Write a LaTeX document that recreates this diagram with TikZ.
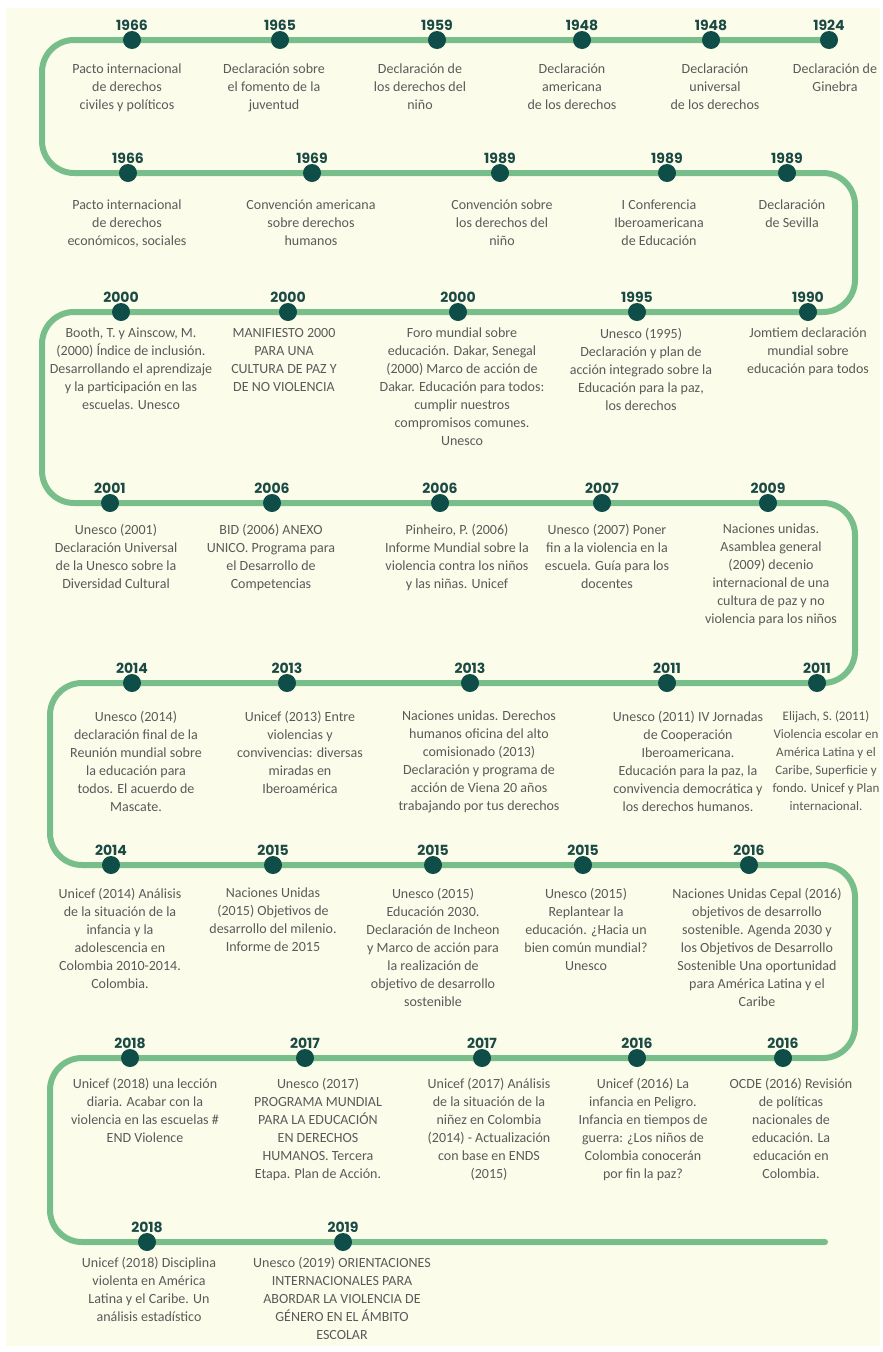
\documentclass[tikz,border=0pt]{standalone}
\usepackage{fontspec}
\setmainfont{Carlito}
\newfontfamily\yearfont{Poppins}
\usetikzlibrary{backgrounds}
\definecolor{cream}{HTML}{FCFCEA}
\definecolor{lgreen}{HTML}{78BE8B}
\definecolor{dteal}{HTML}{0F4D48}
\definecolor{yteal}{HTML}{1B4A45}
\definecolor{tgray}{HTML}{5A5A5A}
\newcommand\evt[8][]{%
  \node[dotmark] (#2) at (#3,#4) {};
  \node[yearlbl] (#2y) at (#3,#4-10) {#5};
  \node[evtxt,#1] (#2t) at (#6,#7) {#8};
}
\begin{document}
\begin{tikzpicture}[x=1pt,y=-1pt,
  dotmark/.style={circle,fill=dteal,minimum size=18pt,inner sep=0pt},
  yearlbl/.style={anchor=base,inner sep=0pt,text=yteal,font=\yearfont\bfseries\fontsize{14}{16}\selectfont},
  evtxt/.style={anchor=north,inner sep=0pt,align=center,text=tgray,font=\fontsize{14}{18}\selectfont},
  tighttxt/.style={font=\fontsize{13}{18}\selectfont},
  tline/.style={line width=6pt,draw=lgreen,rounded corners=32pt,line cap=round}]
\useasboundingbox (0,0) rectangle (883,1352);
\clip (0,0) rectangle (883,1352);
% row 1
\evt{a1}{132}{40}{1966}{127}{64}{Pacto internacional\\de derechos\\civiles y políticos}
\evt{a2}{280}{40}{1965}{274}{64}{Declaración sobre\\el fomento de la\\juventud}
\evt{a3}{437}{40}{1959}{420}{64}{Declaración de\\los derechos del\\niño}
\evt{a4}{582}{40}{1948}{572}{64}{Declaración\\americana\\de los derechos}
\evt{a5}{711}{40}{1948}{715}{64}{Declaración\\universal\\de los derechos}
\evt{a6}{829}{40}{1924}{835}{64}{Declaración de\\Ginebra}
% row 2
\evt{b1}{128}{173}{1966}{127}{200}{Pacto internacional\\de derechos\\económicos, sociales}
\evt{b2}{312}{173}{1969}{311}{200}{Convención americana\\sobre derechos\\humanos}
\evt{b3}{500}{173}{1989}{502}{200}{Convención sobre\\los derechos del\\niño}
\evt{b4}{667}{173}{1989}{659}{200}{I Conferencia\\Iberoamericana\\de Educación}
\evt{b5}{787}{173}{1989}{792}{200}{Declaración\\de Sevilla}
% row 3
\evt{c1}{121}{312}{2000}{131}{328}{Booth, T. y Ainscow, M.\\(2000) Índice de inclusión.\\Desarrollando el aprendizaje\\y la participación en las\\escuelas. Unesco}
\evt{c2}{288}{312}{2000}{284}{328}{MANIFIESTO 2000\\PARA UNA\\CULTURA DE PAZ Y\\DE NO VIOLENCIA}
\evt{c3}{458}{312}{2000}{462}{328}{Foro mundial sobre\\educación. Dakar, Senegal\\(2000) Marco de acción de\\Dakar. Educación para todos:\\cumplir nuestros\\compromisos comunes.\\Unesco}
\evt{c4}{637}{312}{1995}{641}{328}{Unesco (1995)\\Declaración y plan de\\acción integrado sobre la\\Educación para la paz,\\los derechos}
\evt{c5}{808}{312}{1990}{808}{328}{Jomtiem declaración\\mundial sobre\\educación para todos}
% row 4
\evt{d1}{110}{503}{2001}{116}{524}{Unesco (2001)\\Declaración Universal\\de la Unesco sobre la\\Diversidad Cultural}
\evt{d2}{272}{503}{2006}{271}{524}{BID (2006) ANEXO\\UNICO. Programa para\\el Desarrollo de\\Competencias}
\evt{d3}{440}{503}{2006}{457}{524}{Pinheiro, P. (2006)\\Informe Mundial sobre la\\violencia contra los niños\\y las niñas. Unicef}
\evt{d4}{602}{503}{2007}{607}{524}{Unesco (2007) Poner\\fin a la violencia en la\\escuela. Guía para los\\docentes}
\evt{d5}{768}{503}{2009}{771}{524}{Naciones unidas.\\Asamblea general\\(2009) decenio\\internacional de una\\cultura de paz y no\\violencia para los niños}
% row 5
\evt{e1}{132}{683}{2014}{136}{711}{Unesco (2014)\\declaración final de la\\Reunión mundial sobre\\la educación para\\todos. El acuerdo de\\Mascate.}
\evt{e2}{287}{683}{2013}{300}{711}{Unicef (2013) Entre\\violencias y\\convivencias: diversas\\miradas en\\Iberoamérica}
\evt{e3}{470}{683}{2013}{479}{711}{Naciones unidas. Derechos\\humanos oficina del alto\\comisionado (2013)\\Declaración y programa de\\acción de Viena 20 años\\trabajando por tus derechos}
\evt{e4}{667}{683}{2011}{688}{711}{Unesco (2011) IV Jornadas\\de Cooperación\\Iberoamericana.\\Educación para la paz, la\\convivencia democrática y\\los derechos humanos.}
\evt[tighttxt]{e5}{817}{683}{2011}{826}{711}{Elijach, S. (2011)\\Violencia escolar en\\América Latina y el\\Caribe, Superficie y\\fondo. Unicef y Plan\\internacional.}
% row 6
\evt{f1}{111}{865}{2014}{120}{888}{Unicef (2014) Análisis\\de la situación de la\\infancia y la\\adolescencia en\\Colombia 2010-2014.\\Colombia.}
\evt{f2}{273}{865}{2015}{273}{888}{Naciones Unidas\\(2015) Objetivos de\\desarrollo del milenio.\\Informe de 2015}
\evt{f3}{433}{865}{2015}{433}{888}{Unesco (2015)\\Educación 2030.\\Declaración de Incheon\\y Marco de acción para\\la realización de\\objetivo de desarrollo\\sostenible}
\evt{f4}{583}{865}{2015}{586}{888}{Unesco (2015)\\Replantear la\\educación. ¿Hacia un\\bien común mundial?\\Unesco}
\evt{f5}{749}{865}{2016}{757}{888}{Naciones Unidas Cepal (2016)\\objetivos de desarrollo\\sostenible. Agenda 2030 y\\los Objetivos de Desarrollo\\Sostenible Una oportunidad\\para América Latina y el\\Caribe}
% row 7
\evt{g1}{130}{1058}{2018}{145}{1078}{Unicef (2018) una lección\\diaria. Acabar con la\\violencia en las escuelas \#\\END Violence}
\evt{g2}{305}{1058}{2017}{318}{1078}{Unesco (2017)\\PROGRAMA MUNDIAL\\PARA LA EDUCACIÓN\\EN DERECHOS\\HUMANOS. Tercera\\Etapa. Plan de Acción.}
\evt{g3}{482}{1058}{2017}{489}{1078}{Unicef (2017) Análisis\\de la situación de la\\niñez en Colombia\\(2014) - Actualización\\con base en ENDS\\(2015)}
\evt{g4}{637}{1058}{2016}{643}{1078}{Unicef (2016) La\\infancia en Peligro.\\Infancia en tiempos de\\guerra: ¿Los niños de\\Colombia conocerán\\por fin la paz?}
\evt{g5}{783}{1058}{2016}{791}{1078}{OCDE (2016) Revisión\\de políticas\\nacionales de\\educación. La\\educación en\\Colombia.}
% row 8
\evt{h1}{147}{1242}{2018}{149}{1257}{Unicef (2018) Disciplina\\violenta en América\\Latina y el Caribe. Un\\análisis estadístico}
\evt{h2}{343}{1242}{2019}{342}{1257}{Unesco (2019) ORIENTACIONES\\INTERNACIONALES PARA\\ABORDAR LA VIOLENCIA DE\\GÉNERO EN EL ÁMBITO\\ESCOLAR}
% turn points
\coordinate (k1) at (42,40);   \coordinate (k2) at (42,173);
\coordinate (k3) at (855,173); \coordinate (k4) at (855,312);
\coordinate (k5) at (42,312);  \coordinate (k6) at (42,503);
\coordinate (k7) at (855,503); \coordinate (k8) at (855,683);
\coordinate (k9) at (50,683);  \coordinate (k10) at (50,865);
\coordinate (k11) at (855,865);\coordinate (k12) at (855,1058);
\coordinate (k13) at (50,1058);\coordinate (k14) at (50,1242);
\coordinate (tend) at (825,1242);
\begin{pgfonlayer}{background}
\fill[cream] (6,8) rectangle (880,1346);
\draw[tline] (a6.center) -- (k1) -- (k2) -- (k3) -- (k4) -- (k5) -- (k6) -- (k7) -- (k8) -- (k9) -- (k10) -- (k11) -- (k12) -- (k13) -- (k14) -- (tend);
\end{pgfonlayer}
\end{tikzpicture}
\end{document}
